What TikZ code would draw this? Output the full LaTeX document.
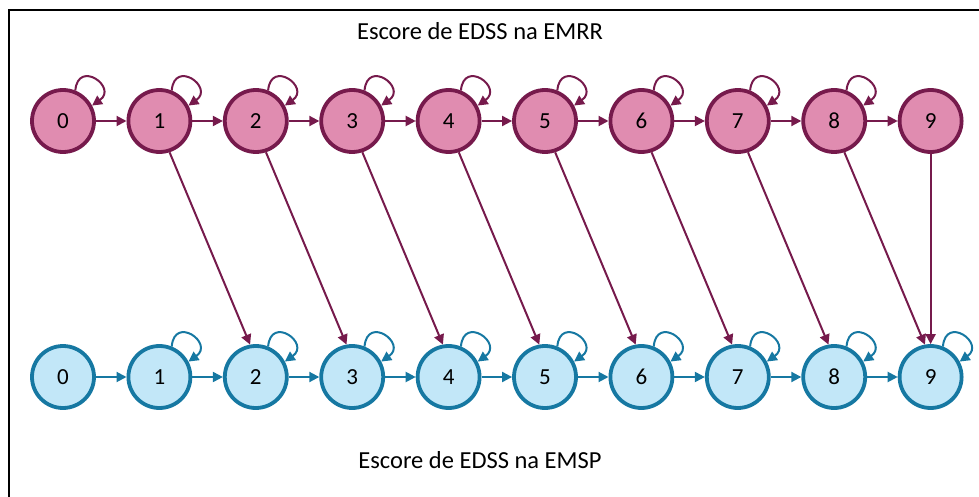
\documentclass[tikz,border=0pt]{standalone}
\usepackage{fontspec}
\setmainfont{Carlito}
\usetikzlibrary{arrows.meta}
\definecolor{rrfill}{RGB}{224,140,176}
\definecolor{rrline}{RGB}{118,26,76}
\definecolor{spfill}{RGB}{194,231,248}
\definecolor{spline}{RGB}{22,120,162}
\begin{document}
\begin{tikzpicture}[x=1pt, y=-1pt, >={Triangle[length=10pt,width=10pt]},
    rr/.style={circle, draw=rrline, fill=rrfill, line width=3.8pt, minimum size=62pt, inner sep=0pt, font=\fontsize{23}{25}\selectfont},
    sp/.style={circle, draw=spline, fill=spfill, line width=3.8pt, minimum size=62pt, inner sep=0pt, font=\fontsize{23}{25}\selectfont},
    rrarrow/.style={->, draw=rrline, line width=2pt},
    sparrow/.style={->, draw=spline, line width=2pt},
    loopy/.style={out=85, in=35, looseness=3.6},
    title/.style={font=\fontsize{24.5}{26}\selectfont}]
  \useasboundingbox (0,0) rectangle (979,497);
  \draw[line width=2.4pt] (9,497) -- (9,10) -- (979,10);
  % titles
  \node[title] (ttop) at (480,31) {Escore de EDSS na EMRR};
  \node[title] (tbot) at (480,460) {Escore de EDSS na EMSP};
  % EMRR states
  \foreach \i in {0,...,9}
    \node[rr] (t\i) at ({63+96.4*\i},121) {\i};
  % EMSP states
  \foreach \i in {0,...,9}
    \node[sp] (b\i) at ({63+96.4*\i},377) {\i};
  % steps along each row
  \foreach \i [count=\j from 1] in {0,...,8} {
    \draw[rrarrow] (t\i) -- (t\j);
    \draw[sparrow] (b\i) -- (b\j);
  }
  % staying in the same score
  \foreach \i in {0,...,8}
    \draw[rrarrow] (t\i.68) to[loopy] (t\i.28);
  \foreach \i in {1,...,9}
    \draw[sparrow] (b\i.68) to[loopy] (b\i.28);
  % conversion to EMSP
  \foreach \i [count=\j from 2] in {1,...,8}
    \draw[rrarrow] (t\i.-72) -- (b\j.100);
  \draw[rrarrow] (t9) -- (b9);
\end{tikzpicture}
\end{document}
